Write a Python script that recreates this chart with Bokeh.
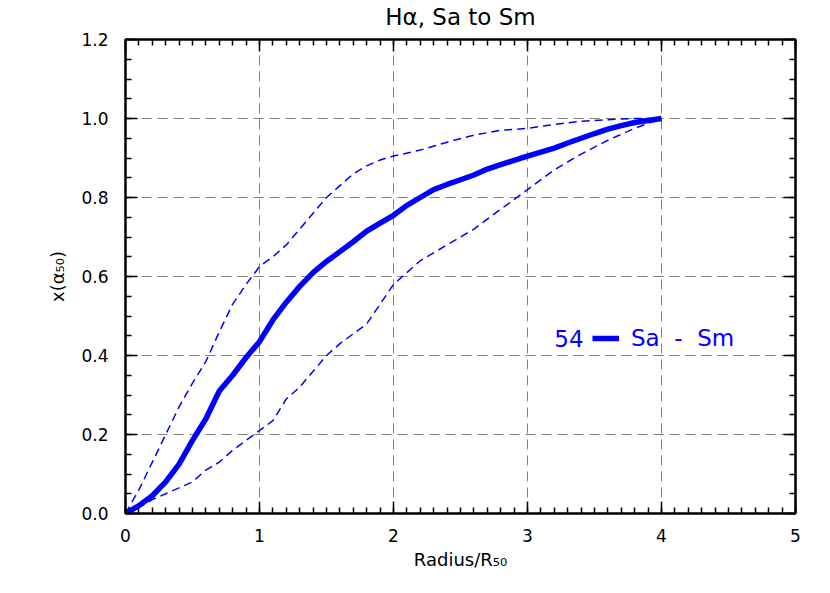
from bokeh.plotting import figure
from bokeh.models import (Range1d, LinearAxis, FixedTicker, PrintfTickFormatter, Legend, LegendItem,
                          Label, CustomLabelingPolicy)
from bokeh.embed import file_html
from bokeh.resources import INLINE

# ---- data ----
radius_main = [0.0, 0.1, 0.2, 0.3, 0.4, 0.5, 0.6, 0.7, 0.8, 0.9, 1.0, 1.1, 1.2, 1.3, 1.4, 1.5, 1.6, 1.7,
               1.8, 1.9, 2.0, 2.1, 2.2, 2.3, 2.4, 2.5, 2.6, 2.7, 2.8, 2.9, 3.0, 3.1, 3.2, 3.3, 3.4,
               3.5, 3.6, 3.7, 3.8, 3.9, 4.0]
frac_main = [0.0, 0.02, 0.045, 0.08, 0.125, 0.185, 0.24, 0.31, 0.35, 0.395, 0.435, 0.49, 0.535, 0.575,
             0.61, 0.638, 0.663, 0.688, 0.715, 0.735, 0.755, 0.78, 0.80, 0.82, 0.833, 0.845, 0.857,
             0.872, 0.883, 0.894, 0.905, 0.915, 0.925, 0.938, 0.95, 0.962, 0.973, 0.982, 0.99, 0.995, 1.0]

radius_env = [0.0, 0.1, 0.2, 0.3, 0.4, 0.5, 0.6, 0.7, 0.8, 0.9, 1.0, 1.1, 1.2, 1.3, 1.4, 1.5, 1.6, 1.7,
              1.8, 1.9, 2.0, 2.2, 2.4, 2.6, 2.8, 3.0, 3.2, 3.4, 3.6, 3.8, 4.0]
frac_upper = [0.0, 0.06, 0.13, 0.2, 0.27, 0.33, 0.385, 0.46, 0.53, 0.58, 0.625, 0.65, 0.68, 0.72, 0.76,
              0.80, 0.83, 0.86, 0.88, 0.895, 0.905, 0.92, 0.94, 0.958, 0.97, 0.975, 0.985, 0.993,
              0.997, 1.0, 1.0]
frac_lower = [0.0, 0.015, 0.035, 0.05, 0.065, 0.08, 0.11, 0.13, 0.16, 0.185, 0.21, 0.235, 0.29, 0.32,
              0.36, 0.40, 0.43, 0.455, 0.48, 0.53, 0.58, 0.64, 0.68, 0.72, 0.77, 0.82, 0.87, 0.91,
              0.945, 0.975, 1.0]

x_ticks = [0, 1, 2, 3, 4, 5]
y_ticks = [0.0, 0.2, 0.4, 0.6, 0.8, 1.0, 1.2]
x_minor = [i / 10 for i in range(0, 51)]
y_minor = [i / 20 for i in range(0, 25)]

legend_count = "54"
legend_label = "Sa  -  Sm"
title_text = "H\u03b1, Sa to Sm"
x_label = "Radius/R\u2085\u2080"
y_label = "x(\u03b1\u2085\u2080)"

FONT = "DejaVu Sans"
BLUE = "#0000ff"

p = figure(width=814, height=577, output_backend="svg", toolbar_location=None,
           x_range=Range1d(0, 5), y_range=Range1d(0, 1.2),
           min_border_left=125, min_border_right=19, min_border_top=39, min_border_bottom=64,
           x_axis_label=x_label, y_axis_label=y_label)
p.background_fill_color = "white"
p.border_fill_color = "white"
p.outline_line_color = "black"
p.outline_line_width = 2

xt = FixedTicker(ticks=x_ticks, minor_ticks=x_minor)
yt = FixedTicker(ticks=y_ticks, minor_ticks=y_minor)

p.xaxis.ticker = xt
p.yaxis.ticker = yt
p.yaxis.formatter = PrintfTickFormatter(format="%.1f")


def style_axis(ax):
    ax.major_tick_in = 12
    ax.major_tick_out = 0
    ax.minor_tick_in = 6
    ax.minor_tick_out = 0
    ax.axis_line_width = 2
    ax.major_tick_line_width = 1.5
    ax.minor_tick_line_width = 1.5
    ax.major_label_text_font = FONT
    ax.major_label_text_font_size = "17px"
    ax.major_label_text_color = "black"
    ax.axis_label_text_font = FONT
    ax.axis_label_text_font_size = "18px"
    ax.axis_label_text_font_style = "normal"
    ax.axis_label_text_color = "black"


style_axis(p.xaxis[0])
style_axis(p.yaxis[0])

p.xaxis.major_label_standoff = 15
p.xaxis.axis_label_standoff = 4
p.yaxis.major_label_standoff = 17
p.yaxis.axis_label_standoff = 10

HIDE_CODE = ("const ids = []; for (const i of indices) ids.push(i); "
             "for (const i of ids) indices.unset(i); return indices")

top = LinearAxis(ticker=xt, major_label_policy=CustomLabelingPolicy(code=HIDE_CODE), axis_label=title_text)
style_axis(top)
top.major_label_text_font_size = "1px"
top.major_label_standoff = 0
top.axis_label_text_font_size = "23px"
top.axis_label_standoff = 6
right = LinearAxis(ticker=yt, major_label_policy=CustomLabelingPolicy(code=HIDE_CODE))
style_axis(right)
right.major_label_text_font_size = "1px"
right.major_label_standoff = 0
p.add_layout(top, "above")
p.add_layout(right, "right")

for g in (p.xgrid[0], p.ygrid[0]):
    g.grid_line_color = "#808080"
    g.grid_line_dash = "10 6"
    g.grid_line_width = 1

p.line(radius_env, frac_upper, line_color=BLUE, line_width=1.5, line_dash="8 5")
p.line(radius_env, frac_lower, line_color=BLUE, line_width=1.5, line_dash="8 5")
main = p.line(radius_main, frac_main, line_color=BLUE, line_width=5.5, line_join="round")

p.add_layout(Label(x=3.2, y=0.443, text=legend_count, text_align="left", text_baseline="middle",
                   text_font=FONT, text_font_size="23px", text_color=BLUE))
leg = Legend(items=[LegendItem(label=legend_label, renderers=[main])],
             location=(467, 162), orientation="horizontal",
             label_text_font=FONT, label_text_font_size="23px", label_text_color=BLUE,
             glyph_width=27, glyph_height=20, label_standoff=12,
             background_fill_alpha=0, border_line_alpha=0, padding=0, margin=0)
p.add_layout(leg, "center")

open("out.html", "w").write(file_html(p, INLINE))
